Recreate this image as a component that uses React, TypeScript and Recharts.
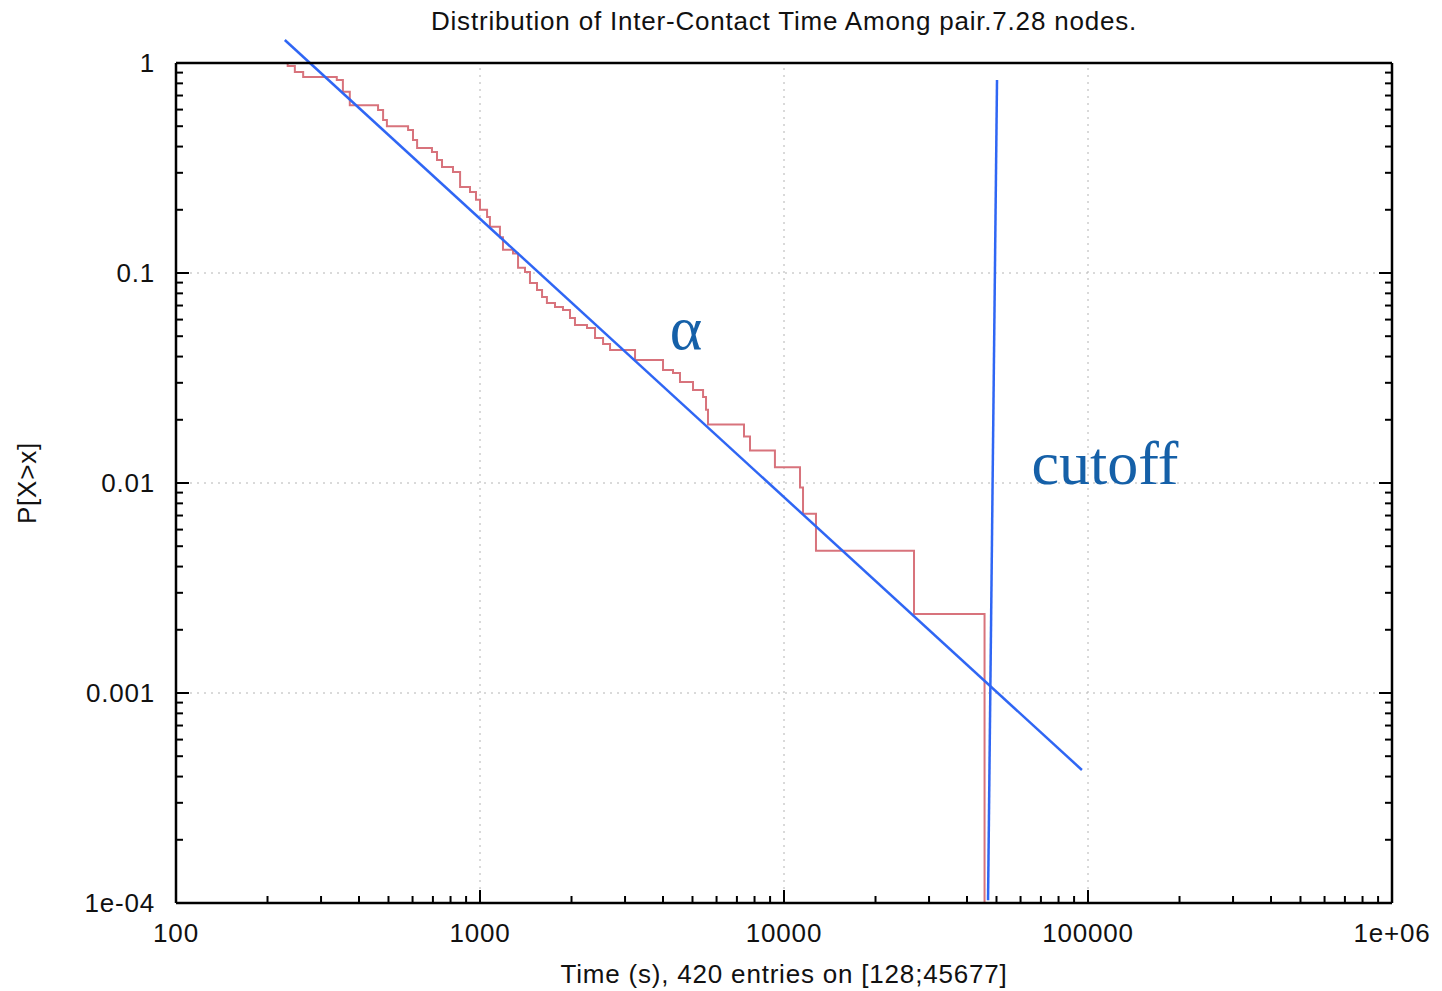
import { LineChart, Line, XAxis, YAxis, ReferenceLine, ReferenceDot, Label } from 'recharts';

// CCDF of inter-contact times (step after each time)
const times = [
  128, 233, 246, 262, 338, 354, 373, 462, 480, 494,
  580, 602, 621, 695, 722, 750, 815, 860, 927, 970,
  1000, 1055, 1078, 1163, 1190, 1284, 1334, 1406, 1460, 1540,
  1600, 1660, 1765, 1875, 1977, 2053, 2249, 2390, 2540, 2678,
  3236, 4000, 4314, 4548, 5020, 5417, 5540, 5623, 7386, 7730,
  9336, 11290, 11550, 12740, 26770, 45677,
];
const probs = [
  1, 0.967, 0.906, 0.858, 0.83, 0.73, 0.63, 0.597, 0.535, 0.5,
  0.48, 0.43, 0.394, 0.377, 0.345, 0.32, 0.303, 0.257, 0.243, 0.223,
  0.2, 0.185, 0.166, 0.148, 0.129, 0.124, 0.106, 0.101, 0.0896, 0.083,
  0.0769, 0.072, 0.0689, 0.0667, 0.061, 0.0565, 0.0547, 0.049, 0.0459, 0.043,
  0.0385, 0.0345, 0.0334, 0.0303, 0.0277, 0.0257, 0.0223, 0.019, 0.01667, 0.0143,
  0.0119, 0.00952, 0.00714, 0.00476, 0.00238, 0.0001,
];

const xMajor = [100, 1000, 10000, 100000, 1000000];
const xLabels = ['100', '1000', '10000', '100000', '1e+06'];
const yMajor = [0.0001, 0.001, 0.01, 0.1, 1];
const yLabels = ['1e-04', '0.001', '0.01', '0.1', '1'];
const mantissas = [2, 3, 4, 5, 6, 7, 8, 9];
const xMinor = [100, 1000, 10000, 100000].flatMap((d) => mantissas.map((m) => m * d));
const yMinor = [0.0001, 0.001, 0.01, 0.1].flatMap((d) => mantissas.map((m) => +(m * d).toPrecision(3)));
const xTicks = [...xMajor, ...xMinor].sort((a, b) => a - b);
const yTicks = [...yMajor, ...yMinor].sort((a, b) => a - b);
// dotted grid only at the inner major ticks
const xGrid = [1000, 10000, 100000];
const yGrid = [0.001, 0.01, 0.1];

// hand-drawn annotation lines (power-law fit and cutoff marker)
const fitLine = [{ t: 228, p: 1.287 }, { t: 95500, p: 0.00043 }];
const cutoffLine = [{ t: 50200, p: 0.83 }, { t: 46900, p: 0.000103 }];
const alphaAt = { t: 4760, p: 0.0553 };
const cutoffAt = { t: 113700, p: 0.0126 };

const title = 'Distribution of Inter-Contact Time Among pair.7.28 nodes.';
const xTitle = 'Time (s), 420 entries on [128;45677]';
const yTitle = 'P[X>x]';

const data = times.map((t, i) => ({ t, p: probs[i] }));

const SANS = '"Liberation Sans", Arial, sans-serif';
const SERIF = '"Liberation Serif", "Times New Roman", serif';
const FRAME = { stroke: '#000', strokeWidth: 2.5 };
const BLUE = '#2f66f4';
const NOTE = '#1560a8';
const GRID = '#b4b4b4';
const TXT = { fill: '#111', fontSize: 26, fontFamily: SANS, letterSpacing: 0.8 };
const MAJOR_LEN = 13;
const MINOR_LEN = 7;

// gnuplot-style inward ticks, drawn by a custom tick so majors and minors differ in length
function makeTick(side: 'bottom' | 'top' | 'left' | 'right') {
  return (props: any) => {
    const { x, y, payload } = props;
    const v = payload.value;
    const isX = side === 'bottom' || side === 'top';
    const majors = isX ? xMajor : yMajor;
    const idx = majors.indexOf(v);
    const len = idx >= 0 ? MAJOR_LEN : MINOR_LEN;
    const dir = side === 'bottom' || side === 'right' ? -1 : 1;
    const line = isX
      ? { x1: x, x2: x, y1: y, y2: y + dir * len }
      : { x1: x, x2: x + dir * len, y1: y, y2: y };
    let label = null;
    if (idx >= 0 && side === 'bottom') {
      label = <text x={x} y={y + 39} textAnchor="middle" {...TXT}>{xLabels[idx]}</text>;
    } else if (idx >= 0 && side === 'left') {
      label = <text x={x - 21} y={y + 9} textAnchor="end" {...TXT}>{yLabels[idx]}</text>;
    }
    return (
      <g>
        <line {...line} stroke="#000" strokeWidth={2} />
        {label}
      </g>
    );
  };
}

const X_DOMAIN: [number, number] = [100, 1e6];
const Y_DOMAIN: [number, number] = [0.0001, 1];

export default function App() {
  return (
    <div style={{ position: 'absolute', left: 0, top: 0, width: 1442, height: 991, background: '#fff' }}>
      <LineChart width={1442} height={991} data={data} margin={{ top: 62, right: 49, bottom: 87, left: 175 }}>
        <XAxis
          xAxisId="x" dataKey="t" type="number" scale="log" domain={X_DOMAIN} allowDataOverflow
          ticks={xTicks} height={1} tickSize={0} tickMargin={0}
          axisLine={FRAME} tickLine={false} interval={0} tick={makeTick('bottom')}
        >
          <Label value={xTitle} position="bottom" offset={61} {...TXT} />
        </XAxis>
        <XAxis
          xAxisId="t" orientation="top" type="number" scale="log" domain={X_DOMAIN} allowDataOverflow
          ticks={xTicks} height={1} tickSize={0} tickMargin={0}
          axisLine={FRAME} tickLine={false} interval={0} tick={makeTick('top')}
        >
          <Label value={title} position="top" offset={32} {...TXT} />
        </XAxis>

        <YAxis
          yAxisId="y" dataKey="p" type="number" scale="log" domain={Y_DOMAIN} allowDataOverflow
          ticks={yTicks} width={1} tickSize={0} tickMargin={0}
          axisLine={FRAME} tickLine={false} interval={0} tick={makeTick('left')}
        >
          <Label
            value={yTitle} angle={-90} position="left" offset={148}
            {...TXT} style={{ textAnchor: 'middle' }}
          />
        </YAxis>
        <YAxis
          yAxisId="r" orientation="right" type="number" scale="log" domain={Y_DOMAIN} allowDataOverflow
          ticks={yTicks} width={1} tickSize={0} tickMargin={0}
          axisLine={FRAME} tickLine={false} interval={0} tick={makeTick('right')}
        />

        {xGrid.map((v) => (
          <ReferenceLine key={`gx${v}`} xAxisId="x" yAxisId="y" x={v} stroke={GRID} strokeDasharray="2 5" />
        ))}
        {yGrid.map((v) => (
          <ReferenceLine key={`gy${v}`} xAxisId="x" yAxisId="y" y={v} stroke={GRID} strokeDasharray="2 5" />
        ))}

        <Line
          xAxisId="x" yAxisId="y" dataKey="p" type="stepAfter" stroke="#d8737c" strokeWidth={2}
          dot={false} isAnimationActive={false}
        />

        <ReferenceLine
          xAxisId="x" yAxisId="y" ifOverflow="visible" stroke={BLUE} strokeWidth={2.5}
          segment={fitLine.map((d) => ({ x: d.t, y: d.p }))}
        />
        <ReferenceLine
          xAxisId="x" yAxisId="y" ifOverflow="visible" stroke={BLUE} strokeWidth={2.5}
          segment={cutoffLine.map((d) => ({ x: d.t, y: d.p }))}
        />

        <ReferenceDot xAxisId="x" yAxisId="y" x={alphaAt.t} y={alphaAt.p} r={0} ifOverflow="visible" fill="none" stroke="none">
          <Label value="α" position="center" fill={NOTE} fontSize={62} fontFamily={SERIF} />
        </ReferenceDot>
        <ReferenceDot xAxisId="x" yAxisId="y" x={cutoffAt.t} y={cutoffAt.p} r={0} ifOverflow="visible" fill="none" stroke="none">
          <Label value="cutoff" position="center" fill={NOTE} fontSize={62} fontFamily={SERIF} />
        </ReferenceDot>
      </LineChart>
    </div>
  );
}
